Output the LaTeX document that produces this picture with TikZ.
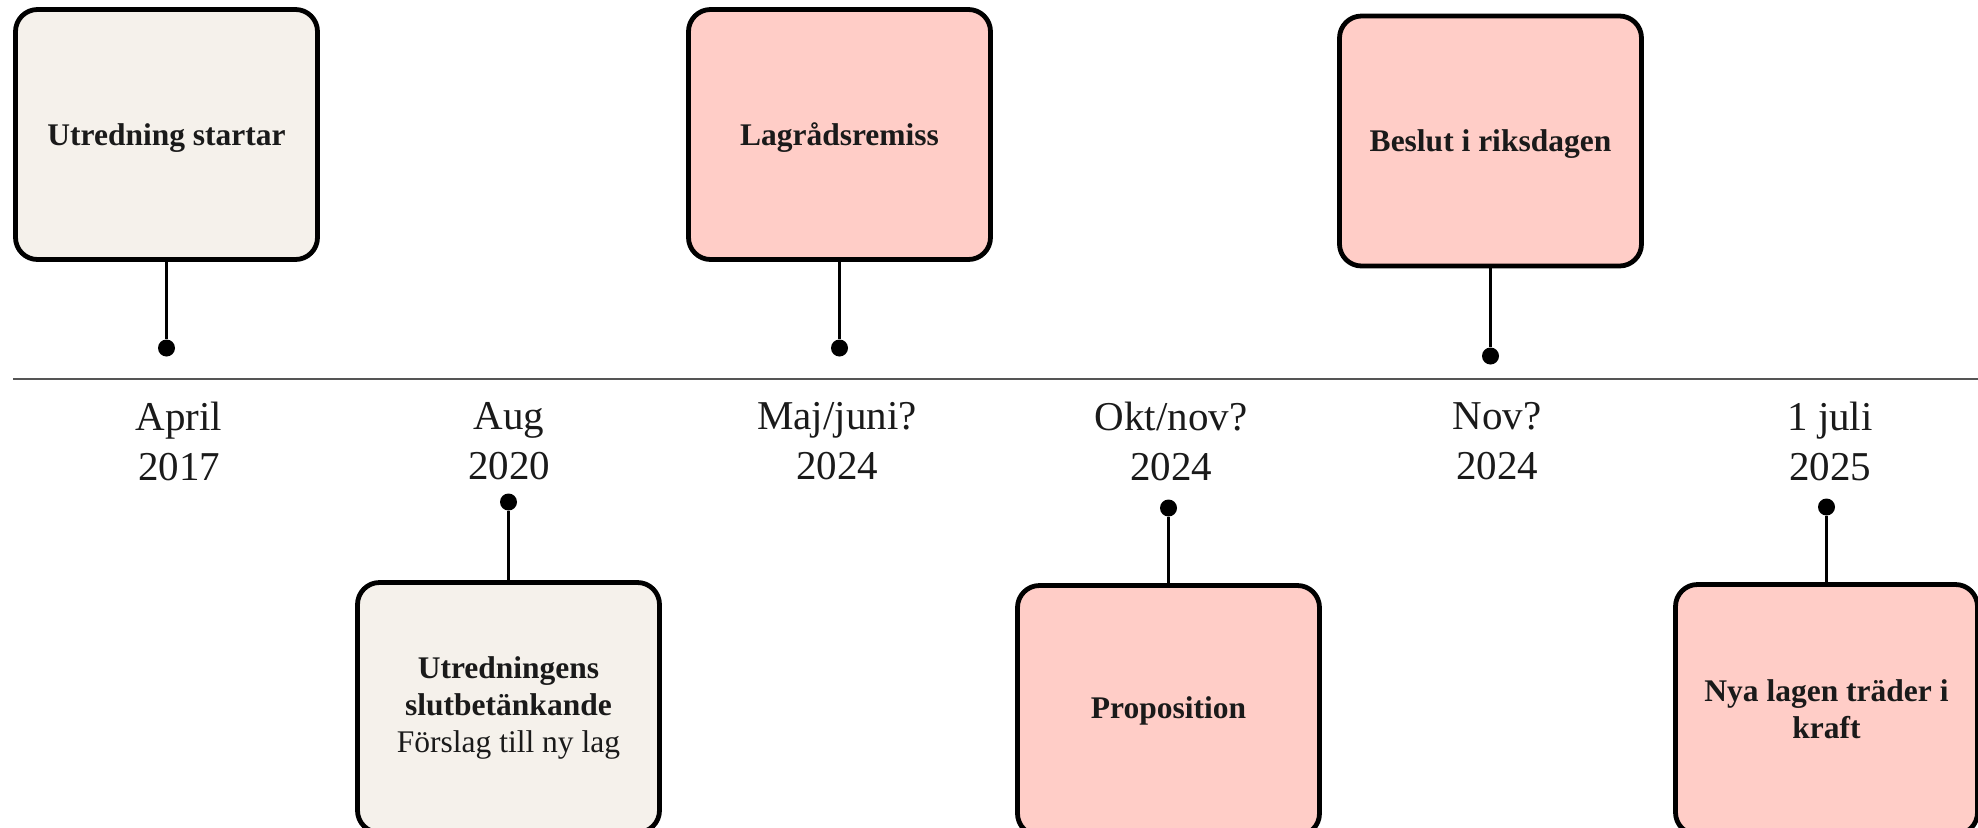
\documentclass[tikz,border=0pt]{standalone}
\usepackage{fontspec}
\setmainfont{Liberation Serif}
\usetikzlibrary{positioning}
\definecolor{utredfill}{RGB}{245,241,235}
\definecolor{remissfill}{RGB}{255,205,199}
\definecolor{textdark}{RGB}{26,26,26}
\definecolor{axisgray}{RGB}{85,85,85}
\tikzset{
    milestone/.style={draw=black, line width=2.4pt, rounded corners=11pt,
        minimum width=151pt, minimum height=125pt, align=center, inner sep=0pt,
        text=textdark, font=\fontsize{15.75}{18.5}\selectfont},
    donebox/.style={milestone, fill=utredfill},
    comingbox/.style={milestone, fill=remissfill},
    oneline/.style={text depth=0pt},
    datum/.style={align=center, anchor=north, inner sep=0pt, text=textdark,
        font=\fontsize{20.5}{25}\selectfont},
    stem/.style={line width=1.6pt},
    pin/.style={circle, fill=black, inner sep=0pt, minimum size=8.5pt},
}

\begin{document}
\begin{tikzpicture}[x=0.5pt, y=-0.5pt]
        \clip (0,0) rectangle (1978,827);

        \draw[axisgray, line width=0.9pt] (13,379) coordinate (axisstart) -- (1978,379) coordinate (axisend);

        \node[donebox, oneline] (startar) at (166.5,134.5) {\textbf{Utredning startar}};
        \node[donebox] (slutbet) at (508.5,707.5) {\textbf{Utredningens}\\\textbf{slutbetänkande}\\Förslag till ny lag};
        \node[comingbox, oneline] (remiss) at (839.5,134.5) {\textbf{Lagrådsremiss}};
        \node[comingbox] (prop) at (1168.5,710.5) {\textbf{Proposition}};
        \node[comingbox, oneline] (beslut) at (1490.5,141) {\textbf{Beslut i riksdagen}};
        \node[comingbox] (ikraft) at (1826.5,709.5) {\textbf{Nya lagen träder i}\\\textbf{kraft}};

        \node[pin] (pstartar) at (166.5,348) {};
        \node[pin] (pslutbet) at (508.5,502) {};
        \node[pin] (premiss) at (839.5,348) {};
        \node[pin] (pprop) at (1168.5,508) {};
        \node[pin] (pbeslut) at (1490.5,356) {};
        \node[pin] (pikraft) at (1826.5,507) {};

        \draw[stem] (startar) -- (pstartar);
        \draw[stem] (slutbet) -- (pslutbet);
        \draw[stem] (remiss) -- (premiss);
        \draw[stem] (prop) -- (pprop);
        \draw[stem] (beslut) -- (pbeslut);
        \draw[stem] (ikraft) -- (pikraft);

        \node[datum] (d2017) at (179,402) {April\\2017};
        \node[datum] (d2020) at (509,402) {Aug\\2020};
        \node[datum] (d2024a) at (837,402) {Maj/juni?\\2024};
        \node[datum] (d2024b) at (1171,402) {Okt/nov?\\2024};
        \node[datum] (d2024c) at (1497,402) {Nov?\\2024};
        \node[datum] (d2025) at (1830,402) {1 juli\\2025};
\end{tikzpicture}
\end{document}
